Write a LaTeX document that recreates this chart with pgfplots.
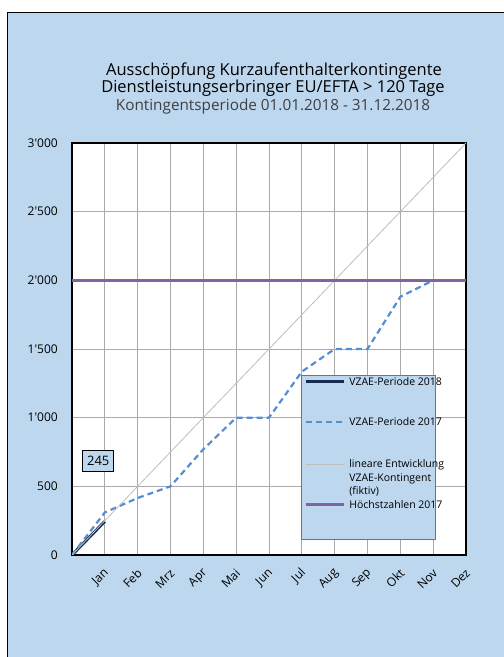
\documentclass[border=0pt]{standalone}
\usepackage{fontspec}
\setmainfont{Open Sans}
\usepackage{pgfplots}
\pgfplotsset{compat=1.18}

\definecolor{bgblue}{RGB}{189,215,238}
\definecolor{navy}{RGB}{23,45,80}
\definecolor{dashblue}{RGB}{85,142,213}
\definecolor{lingray}{RGB}{190,190,190}
\definecolor{hoechst}{RGB}{128,100,162}
\definecolor{gridgray}{RGB}{170,170,170}

\begin{document}
\begin{tikzpicture}
\useasboundingbox (0,0) rectangle (504bp,657bp);
\fill[white] (0,0) rectangle (504bp,657bp);
\fill[bgblue] (7bp,0) rectangle (504bp,644bp);
\draw[black, line width=1bp] (7bp,0) -- (7bp,644bp) -- (504bp,644bp);

% titles
\node[anchor=base, font=\fontsize{16.5bp}{19bp}\selectfont] at (274bp,581bp) {Ausschöpfung Kurzaufenthalterkontingente};
\node[anchor=base, font=\fontsize{16.5bp}{19bp}\selectfont] at (273bp,564bp) {Dienstleistungserbringer EU/EFTA > 120 Tage};
\node[anchor=base, text=black!75, font=\fontsize{15.3bp}{18bp}\selectfont] at (273bp,546bp) {Kontingentsperiode 01.01.2018 - 31.12.2018};

\begin{axis}[
  at={(72bp,102bp)}, anchor=south west,
  scale only axis, width=394bp, height=412bp,
  xmin=0, xmax=12, ymin=0, ymax=3000,
  axis background/.style={fill=white},
  axis line style={black, line width=1.2bp},
  xtick={1,2,3,4,5,6,7,8,9,10,11,12},
  xticklabels={Jan,Feb,Mrz,Apr,Mai,Jun,Jul,Aug,Sep,Okt,Nov,Dez},
  ytick={0,500,1000,1500,2000,2500,3000},
  yticklabels={0,500,1\textquotesingle000,1\textquotesingle500,2\textquotesingle000,2\textquotesingle500,3\textquotesingle000},
  major tick length=0pt,
  grid=major, grid style={gridgray, line width=0.8bp},
  tick label style={font=\fontsize{12bp}{14bp}\selectfont},
  yticklabel style={anchor=east, inner sep=0pt, xshift=-14bp},
  xticklabel style={xshift=2bp, yshift=-16bp, rotate=45, anchor=east, inner sep=0pt},
  legend style={at={(axis description cs:0.581,0.437)}, anchor=north west,
    fill=bgblue, draw=black!55, line width=0.8bp,
    inner xsep=3bp, inner ysep=1bp,
    font=\fontsize{10.5bp}{13.5bp}\selectfont,
    nodes={inner sep=1bp, text depth=29bp}, cells={anchor=base west},
    row sep=1.5bp, column sep=3bp},
  legend image code/.code={\draw[#1] (0bp,3.5bp) -- (38bp,3.5bp);},
]
\addplot[navy, line width=3bp] coordinates {(0,0)(1,245)};
\addlegendentry{\makebox[82bp][l]{VZAE-Periode 2018}}
\addplot[dashblue, line width=2.2bp, dash pattern=on 6bp off 4bp] coordinates
  {(0,0)(1,310)(2,415)(3,500)(4,770)(5,1000)(6,1000)(7,1335)(8,1500)(9,1500)(10,1880)(11,2000)};
\addlegendentry{\makebox[82bp][l]{VZAE-Periode 2017}}
\addplot[lingray, line width=0.8bp] coordinates {(0,0)(12,3000)};
\addlegendentry{\begin{tabular}[t]{@{}l@{}}\makebox[82bp][l]{lineare Entwicklung}\\VZAE-Kontingent\\(fiktiv)\end{tabular}}
\addplot[hoechst, line width=3bp] coordinates {(0,2000)(12,2000)};
\addlegendentry{\makebox[82bp][l]{Höchstzahlen 2017}}
\node[draw=black, line width=1bp, fill=bgblue, font=\fontsize{13bp}{15bp}\selectfont,
  minimum width=31bp, minimum height=21bp, inner sep=0pt] at (axis cs:0.8,685) {245};
\end{axis}
\end{tikzpicture}
\end{document}
